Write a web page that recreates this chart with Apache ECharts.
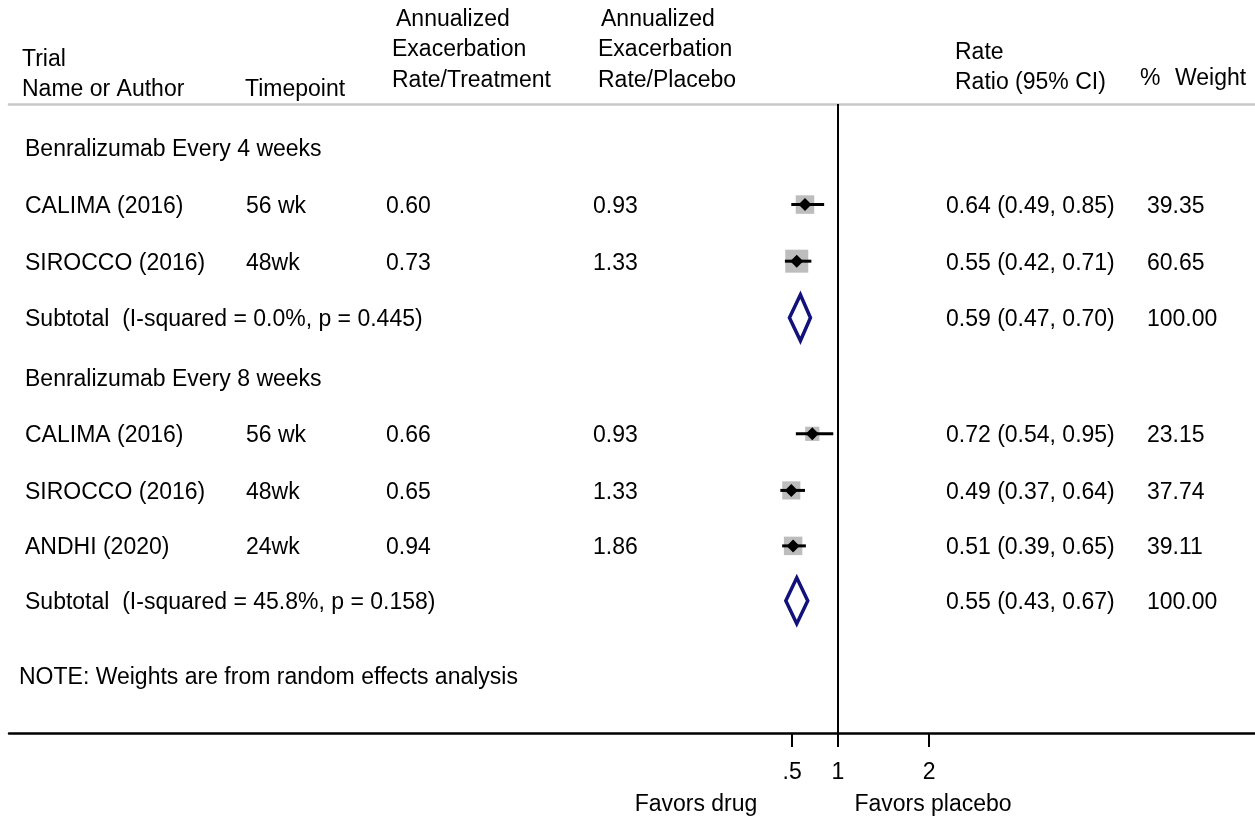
<!DOCTYPE html>
<html>
<head>
<meta charset="utf-8">
<script src="https://cdn.jsdelivr.net/npm/echarts@6/dist/echarts.min.js"></script>
<style>
html,body{margin:0;padding:0;background:#fff;}
#chart{width:1255px;height:819px;}
</style>
</head>
<body>
<div id="chart"></div>
<script>
// ---------- DATA ----------
const rowLabels = ['Benralizumab Every 4 weeks','CALIMA (2016)','SIROCCO (2016)','Subtotal  (I-squared = 0.0%, p = 0.445)',
  'Benralizumab Every 8 weeks','CALIMA (2016)','SIROCCO (2016)','ANDHI (2020)','Subtotal  (I-squared = 45.8%, p = 0.158)'];
const rowTypes = ['group','study','study','subtotal','group','study','study','study','subtotal'];
const timepoints = ['','56 wk','48wk','','','56 wk','48wk','24wk',''];
const rateTreatment = ['','0.60','0.73','','','0.66','0.65','0.94',''];
const ratePlacebo = ['','0.93','1.33','','','0.93','1.33','1.86',''];
const rateRatio = [null,0.64,0.55,0.59,null,0.72,0.49,0.51,0.55];
const ciLow = [null,0.49,0.42,0.47,null,0.54,0.37,0.39,0.43];
const ciHigh = [null,0.85,0.71,0.70,null,0.95,0.64,0.65,0.67];
const weights = [null,39.35,60.65,100.00,null,23.15,37.74,39.11,100.00];
const xTicks = [0.5,1,2];
const xTickLabels = ['.5','1','2'];

// ---------- LAYOUT ----------
const FONT = '"Liberation Sans", Arial, sans-serif';
const FS = 23;
const TY = 2; // small vertical text offset
const COL = {name:25, time:246, trt:386, plc:593, ci:946, wt:1147};
// row vertical slots (in row units along the hidden y axis)
const rowSlot = [0, 1, 2, 3, 4.05, 5.05, 6.05, 7.03, 8];

const fmt2 = v => v.toFixed(2);
const rowData = rowLabels.map((l,i)=>[rowSlot[i], rateRatio[i], ciLow[i], ciHigh[i], weights[i], i]);

function txt(x,y,s,extra){
  return Object.assign({type:'text', style:{x:x,y:y+TY,text:s,font:FS+'px '+FONT,fill:'#000',textVerticalAlign:'middle'}}, extra||{});
}

const chart = echarts.init(document.getElementById('chart'), null, {renderer:'canvas'});
const option = {
  animation:false,
  backgroundColor:'#fff',
  grid:{left:9,right:0,top:104,bottom:86},
  xAxis:[{
    type:'value', min:-8.08, max:5.57,
    axisLine:{show:true,onZero:false,lineStyle:{color:'#000',width:2.5}},
    axisTick:{show:true,customValues:xTicks,length:14,lineStyle:{color:'#000',width:2}},
    axisLabel:{show:true,customValues:xTicks,margin:28,fontSize:FS,fontFamily:FONT,color:'#000',
      formatter:v=>xTickLabels[xTicks.indexOf(v)] ?? ''},
    splitLine:{show:false}
  },{
    type:'value', position:'top', min:-8.08, max:5.57,
    axisLine:{show:true,onZero:false,lineStyle:{color:'#c8c8c8',width:2.5}},
    axisTick:{show:false}, axisLabel:{show:false}, splitLine:{show:false}
  }],
  yAxis:{type:'value',inverse:true,min:-0.777,max:10.336,show:false},
  series:[{
    type:'custom',
    silent:true,
    data:rowData,
    encode:{x:1,y:0},
    renderItem:function(params,api){
      const slot = api.value(0);
      const i = api.value(5);
      const y = api.coord([0,slot])[1];
      const type = rowTypes[i];
      const children = [];
      children.push(txt(COL.name,y,rowLabels[i]));
      if(type==='study'){
        children.push(txt(COL.time,y,timepoints[i]));
        children.push(txt(COL.trt,y,rateTreatment[i]));
        children.push(txt(COL.plc,y,ratePlacebo[i]));
      }
      if(type!=='group'){
        const rr=api.value(1), lo=api.value(2), hi=api.value(3), w=api.value(4);
        const px = api.coord([rr,slot])[0], pl=api.coord([lo,slot])[0], ph=api.coord([hi,slot])[0];
        children.push(txt(COL.ci,y,fmt2(rr)+' ('+fmt2(lo)+', '+fmt2(hi)+')'));
        children.push(txt(COL.wt,y,fmt2(w)));
        if(type==='study'){
          const s = 2.95*Math.sqrt(w);
          children.push({type:'rect',shape:{x:px-s/2,y:y-s/2,width:s,height:s},style:{fill:'#bdbdbd'}});
          children.push({type:'line',shape:{x1:pl,y1:y,x2:ph,y2:y},style:{stroke:'#000',lineWidth:3}});
          const d=6.5;
          children.push({type:'polygon',shape:{points:[[px-d,y],[px,y-d],[px+d,y],[px,y+d]]},style:{fill:'#000'}});
        } else {
          const h=23;
          children.push({type:'polygon',shape:{points:[[pl,y],[px,y-h],[ph,y],[px,y+h]]},
            style:{fill:'none',stroke:'#12127a',lineWidth:3.5}});
        }
      }
      return {type:'group',children:children};
    },
    markLine:{
      silent:true,symbol:['none','none'],label:{show:false},
      lineStyle:{color:'#000',width:2,type:'solid'},
      data:[{xAxis:1}]
    }
  }],
  graphic:[
    txt(22,58,'Trial'), txt(22,88,'Name or Author'),
    txt(245,88,'Timepoint'),
    txt(396,18,'Annualized'), txt(392,48,'Exacerbation'), txt(392,79,'Rate/Treatment'),
    txt(601,18,'Annualized'), txt(598,48,'Exacerbation'), txt(598,79,'Rate/Placebo'),
    txt(955,51,'Rate'), txt(955,81,'Ratio (95% CI)'),
    txt(1140,77,'%'), txt(1175,77,'Weight'),
    txt(19,676,'NOTE: Weights are from random effects analysis'),
    txt(696,803,'Favors drug',{style:{x:696,y:803+TY,text:'Favors drug',font:FS+'px '+FONT,fill:'#000',textAlign:'center',textVerticalAlign:'middle'}}),
    txt(933,803,'Favors placebo',{style:{x:933,y:803+TY,text:'Favors placebo',font:FS+'px '+FONT,fill:'#000',textAlign:'center',textVerticalAlign:'middle'}})
  ]
};
chart.setOption(option);
</script>
</body>
</html>
